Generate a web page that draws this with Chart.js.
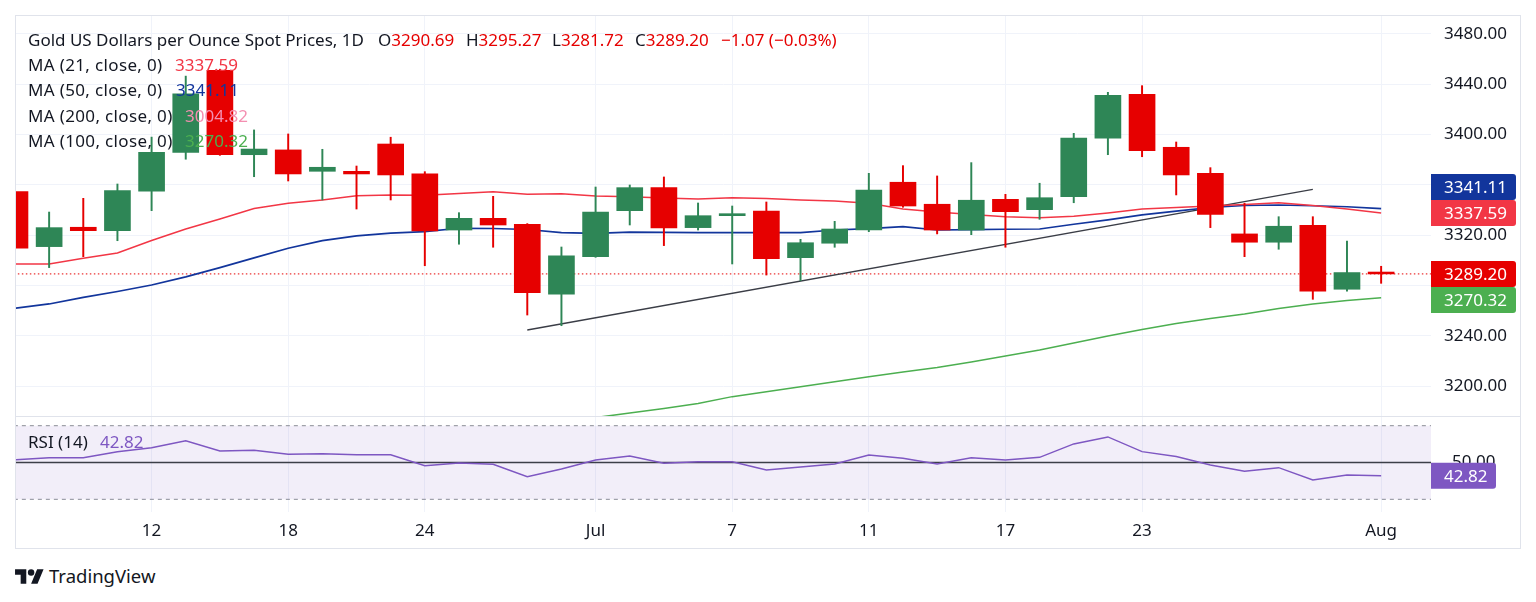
<!DOCTYPE html>
<html>
<head>
<meta charset="utf-8">
<script src="https://cdn.jsdelivr.net/npm/chart.js@4.4.1/dist/chart.umd.min.js"></script>
<style>
  html, body { margin: 0; padding: 0; background: #fff; }
  #wrap { position: relative; width: 1536px; height: 602px; background: #fff; overflow: hidden; }
  canvas { position: absolute; left: 0; }
  .frame { position: absolute; left: 15px; top: 15px; width: 1504px; height: 532px; border: 1px solid #e0e3eb; pointer-events: none; }
  .sep { position: absolute; left: 15px; top: 416px; width: 1505px; height: 1px; background: #e0e3eb; pointer-events: none; }
  .t { position: absolute; font-family: 'Noto Sans', 'Open Sans', sans-serif; font-size: 17px; line-height: 25px; white-space: pre; color: #131722; }
  #logo { position: absolute; left: 15px; top: 566px; }
  #logotext { position: absolute; left: 49px; top: 563px; font-family: 'Noto Sans', 'Open Sans', sans-serif; font-size: 18.5px; line-height: 25px; color: #131722; white-space: pre; }
</style>
</head>
<body>
<div id="wrap">
  <canvas id="main" width="1536" height="416" style="top:0"></canvas>
  <canvas id="rsi" width="1536" height="132" style="top:416px"></canvas>
  <div class="frame"></div>
  <div class="sep"></div>
  <div id="legend"></div>
  <svg id="logo" width="29" height="22.5" viewBox="0 0 36 28"><path d="M14 22H7V11H0V4h14v18zM28 22h-8l7.5-18h8L28 22z" fill="#131722"/><circle cx="20" cy="8" r="4" fill="#131722"/></svg>
  <div id="logotext">TradingView</div>
</div>
<script>
// ---------------- DATA ----------------
const dates = ['Jun 6','Jun 9','Jun 10','Jun 11','Jun 12','Jun 13','Jun 16','Jun 17','Jun 18','Jun 19','Jun 20',
  'Jun 23','Jun 24','Jun 25','Jun 26','Jun 27','Jun 30','Jul 1','Jul 2','Jul 3','Jul 4','Jul 7','Jul 8','Jul 9',
  'Jul 10','Jul 11','Jul 14','Jul 15','Jul 16','Jul 17','Jul 18','Jul 21','Jul 22','Jul 23','Jul 24','Jul 25',
  'Jul 28','Jul 29','Jul 30','Jul 31','Aug 1'];
const open  = [3354.6,3310.9,3326.3,3323.6,3354.9,3385.9,3451.1,3384.0,3387.8,3370.8,3370.8,3392.5,3368.7,3324.1,3333.4,3328.7,3273.0,3302.9,3339.5,3357.8,3326.0,3335.5,3339.2,3302.1,3313.6,3324.1,3362.1,3344.6,3324.1,3348.5,3340.3,3350.6,3397.1,3432.0,3389.9,3369.2,3321.0,3314.4,3327.9,3277.0,3290.69];
const high  = [3356.0,3338.4,3349.3,3360.7,3398.0,3446.5,3452.0,3403.7,3400.5,3388.3,3375.0,3397.9,3370.5,3337.9,3350.9,3329.2,3310.6,3358.3,3359.9,3366.3,3345.6,3343.2,3346.4,3316.7,3331.0,3369.2,3375.3,3367.1,3377.7,3352.5,3361.3,3401.0,3433.6,3438.9,3394.1,3373.7,3345.4,3334.7,3334.7,3315.4,3295.27];
const low   = [3308.5,3294.2,3302.9,3315.6,3339.5,3380.4,3383.5,3366.5,3363.1,3348.0,3340.8,3348.0,3295.7,3312.8,3310.4,3256.5,3248.0,3302.4,3328.1,3311.7,3324.1,3297.1,3288.3,3283.8,3310.4,3322.8,3342.2,3321.0,3320.4,3310.4,3332.6,3345.8,3384.0,3382.4,3352.0,3326.0,3302.9,3308.8,3269.0,3275.4,3281.72];
const close = [3309.6,3326.0,3323.6,3355.4,3385.9,3432.5,3384.0,3388.5,3368.7,3374.0,3368.7,3367.9,3323.3,3333.4,3328.1,3274.3,3303.5,3338.4,3357.8,3325.7,3335.5,3337.1,3301.3,3314.0,3324.9,3355.9,3343.2,3324.1,3347.8,3338.7,3349.8,3397.3,3431.3,3387.2,3367.9,3336.6,3314.4,3327.1,3275.4,3290.27,3289.20];
const ma21  = [3297.1,3297.1,3301.6,3305.8,3315.8,3324.9,3332.9,3341.2,3345.4,3348.0,3351.4,3352.0,3351.7,3353.2,3354.6,3352.5,3353.0,3351.2,3350.6,3349.6,3348.8,3349.8,3349.2,3348.0,3347.2,3345.4,3340.8,3338.4,3336.5,3334.7,3333.9,3335.0,3337.7,3340.8,3342.0,3343.2,3344.4,3345.8,3343.6,3340.8,3337.59];
const ma50  = [3261.9,3265.3,3270.5,3275.2,3280.4,3286.8,3294.2,3301.9,3309.6,3315.6,3319.4,3321.7,3322.9,3325.5,3325.3,3324.5,3322.1,3321.5,3322.5,3322.3,3322.0,3322.0,3322.0,3322.0,3324.1,3325.2,3326.8,3324.1,3324.4,3324.7,3324.9,3328.7,3332.1,3336.1,3339.2,3342.0,3343.6,3344.0,3343.4,3342.6,3341.11];
const ma100 = [null,null,null,null,null,null,null,null,null,null,null,null,null,null,null,null,null,3175.0,3178.5,3182.2,3186.2,3191.6,3195.5,3199.4,3203.5,3207.5,3211.2,3214.8,3219.2,3223.9,3228.7,3234.3,3239.8,3245.0,3249.8,3253.8,3257.4,3261.7,3265.3,3268.1,3270.32];
const ma200Last = 3004.82;
const rsi   = [51.4,52.6,52.6,55.9,58.0,61.8,56.3,56.6,54.5,54.8,54.2,54.2,48.3,49.7,49.0,42.3,46.5,51.4,53.5,49.6,50.4,50.4,45.9,47.6,49.2,54.1,52.3,49.2,52.6,51.4,52.8,60.1,63.9,55.9,53.2,48.6,45.2,47.2,40.5,43.2,42.82];
const rsiLevels = [70, 50, 30];
const trendIdx = [15, 38];
const trendPrice = [3244.6, 3356.5];
const priceTicks = [3200, 3240, 3280, 3320, 3360, 3400, 3440, 3480];
const timeTickIdx = [4, 8, 12, 17, 21, 25, 29, 33, 40];
const timeTickLabels = ['12', '18', '24', 'Jul', '7', '11', '17', '23', 'Aug'];

// ---------------- STYLE ----------------
const FONT = "'Noto Sans', 'Open Sans', sans-serif";
const TEXT = '#131722';
const GRID = '#f0f3fa';
const UP = '#2e8656';
const DOWN = '#e60000';
const C21 = '#f23645';
const C50 = '#12359c';
const C100 = '#4caf50';
const C200 = '#f48fb1';
const CRSI = '#7e57c2';
const X_MIN = 0.03, X_MAX = 41.46;

Chart.defaults.font.family = FONT;
Chart.defaults.font.size = 17;
Chart.defaults.color = TEXT;

const idx = dates.map((_, i) => i);
const last = idx.length - 1;
const candleColors = idx.map(i => close[i] >= open[i] ? UP : DOWN);

function drawTag(ctx, x, cy, w, h, color, text) {
  ctx.save();
  ctx.fillStyle = color;
  ctx.beginPath();
  if (ctx.roundRect) ctx.roundRect(x, cy - h / 2, w, h, [0, 3, 3, 0]);
  else ctx.rect(x, cy - h / 2, w, h);
  ctx.fill();
  ctx.fillStyle = '#ffffff';
  ctx.font = '17px ' + FONT;
  ctx.textAlign = 'left';
  ctx.textBaseline = 'middle';
  ctx.fillText(text, x + 13, cy + 1);
  ctx.restore();
}

const tagPlugin = {
  id: 'tags',
  afterDraw(chart, args, opts) {
    const ys = chart.scales.y;
    const placed = [];
    const H = 26;
    (opts.items || []).forEach(t => {
      let cy = ys.getPixelForValue(t.value);
      placed.forEach(p => {
        if (Math.abs(cy - p) < H) cy = cy < p ? p - H : p + H;
      });
      placed.push(cy);
      drawTag(chart.ctx, ys.left, cy, opts.width, H, t.color, t.value.toFixed(2));
    });
  }
};

function xScale(showTicks) {
  return {
    type: 'linear', min: X_MIN, max: X_MAX, offset: false, bounds: 'data',
    afterBuildTicks: s => { s.ticks = timeTickIdx.map(v => ({ value: v })); },
    afterFit: s => {
      if (!showTicks) s.height = 0; else s.height = 36;
      s.paddingLeft = 0; s.paddingRight = 0;
    },
    ticks: { display: showTicks, autoSkip: false, maxRotation: 0, padding: 9, color: TEXT,
             callback: (v, i) => timeTickLabels[i] },
    grid: { color: GRID, offset: false, drawTicks: false, lineWidth: 1 },
    border: { display: false }
  };
}

function init() {
  // ---------- main price chart ----------
  new Chart(document.getElementById('main'), {
    type: 'bar',
    data: {
      datasets: [
        { type: 'bar', data: idx.map(i => ({ x: i, y: [open[i], close[i]] })), backgroundColor: candleColors,
          barThickness: 26, grouped: false, order: 0, clip: 0, minBarLength: 1, borderWidth: 0 },
        { type: 'bar', data: idx.map(i => ({ x: i, y: [low[i], high[i]] })), backgroundColor: candleColors,
          barThickness: 1.3, grouped: false, order: 1, clip: 0, borderWidth: 0 },
        { type: 'line', data: idx.map(i => ({ x: i, y: ma21[i] })), borderColor: C21, borderWidth: 1.5,
          pointRadius: 0, order: 3, clip: 0, tension: 0 },
        { type: 'line', data: idx.map(i => ({ x: i, y: ma50[i] })), borderColor: C50, borderWidth: 1.7,
          pointRadius: 0, order: 3, clip: 0, tension: 0 },
        { type: 'line', data: idx.map(i => ({ x: i, y: ma100[i] })), borderColor: C100, borderWidth: 1.5,
          pointRadius: 0, order: 3, clip: 0, tension: 0, spanGaps: false },
        { type: 'line', data: trendIdx.map((t, k) => ({ x: t, y: trendPrice[k] })), borderColor: '#3a3d46', borderWidth: 1.3,
          pointRadius: 0, order: 4, clip: 0 },
        { type: 'line', data: [{ x: X_MIN - 1, y: close[last] }, { x: X_MAX + 1, y: close[last] }], borderColor: DOWN,
          borderWidth: 1, borderDash: [1.5, 2.5], pointRadius: 0, order: 5, clip: 0 }
      ]
    },
    options: {
      responsive: false, animation: false,
      layout: { padding: { left: 16, right: 16, top: 15, bottom: 0 } },
      plugins: {
        legend: { display: false }, tooltip: { enabled: false },
        tags: { width: 85, items: [
          { value: close[last], color: DOWN },
          { value: ma21[last], color: C21 },
          { value: ma50[last], color: C50 },
          { value: ma100[last], color: C100 }
        ] }
      },
      scales: {
        x: xScale(false),
        y: {
          type: 'linear', position: 'right', min: 3176.2, max: 3495.1, bounds: 'data',
          afterBuildTicks: s => { s.ticks = priceTicks.map(v => ({ value: v })); },
          afterFit: s => { s.width = 89; s.paddingTop = 0; s.paddingBottom = 0; },
          ticks: { padding: 13, color: TEXT, callback: v => Number(v).toFixed(2) },
          grid: { color: GRID, drawTicks: false },
          border: { display: false }
        }
      }
    },
    plugins: [tagPlugin]
  });

  // ---------- RSI chart ----------
  new Chart(document.getElementById('rsi'), {
    type: 'line',
    data: {
      datasets: [
        { data: [{ x: X_MIN - 1, y: rsiLevels[0] }, { x: X_MAX + 1, y: rsiLevels[0] }], borderColor: '#8a8d96',
          borderDash: [4, 4], borderWidth: 1, pointRadius: 0, clip: 0, fill: '+1',
          backgroundColor: 'rgba(126,87,194,0.1)', order: 4 },
        { data: [{ x: X_MIN - 1, y: rsiLevels[2] }, { x: X_MAX + 1, y: rsiLevels[2] }], borderColor: '#8a8d96',
          borderDash: [4, 4], borderWidth: 1, pointRadius: 0, clip: 0, fill: false, order: 4 },
        { data: [{ x: X_MIN - 1, y: rsiLevels[1] }, { x: X_MAX + 1, y: rsiLevels[1] }], borderColor: '#3c3f48',
          borderWidth: 1.6, pointRadius: 0, clip: 0, fill: false, order: 3 },
        { data: idx.map(i => ({ x: i, y: rsi[i] })), borderColor: CRSI, borderWidth: 1.5, pointRadius: 0,
          clip: 0, fill: false, order: 1, tension: 0 }
      ]
    },
    options: {
      responsive: false, animation: false,
      layout: { padding: { left: 16, right: 16, top: 0, bottom: 0 } },
      plugins: {
        legend: { display: false }, tooltip: { enabled: false },
        tags: { width: 65, items: [{ value: rsi[last], color: CRSI }] }
      },
      scales: {
        x: xScale(true),
        y: {
          type: 'linear', position: 'right', min: 23.1, max: 75.27, bounds: 'data',
          afterBuildTicks: s => { s.ticks = [{ value: rsiLevels[1] }]; },
          afterFit: s => { s.width = 89; s.paddingTop = 0; s.paddingBottom = 0; },
          ticks: { padding: 13, color: TEXT, callback: v => Number(v).toFixed(2) },
          grid: { display: false },
          border: { display: false }
        }
      }
    },
    plugins: [tagPlugin]
  });

  // ---------- legend texts ----------
  const lg = document.getElementById('legend');
  function put(x, y, text, color) {
    const d = document.createElement('div');
    d.className = 't';
    d.style.left = x + 'px';
    d.style.top = y + 'px';
    if (color) d.style.color = color;
    d.textContent = text;
    lg.appendChild(d);
    return d;
  }
  const chg = close[last] - close[last - 1];
  const pct = chg / close[last - 1] * 100;
  const sgn = v => (v < 0 ? '\u2212' : '+') + Math.abs(v).toFixed(2);
  const rowTop = [26.6, 52, 77.3, 102.7, 128.1];
  put(28, rowTop[0], 'Gold US Dollars per Ounce Spot Prices, 1D');
  const ohlc = [['O', open[last], 378], ['H', high[last], 466], ['L', low[last], 552], ['C', close[last], 635]];
  ohlc.forEach(([k, v, x]) => {
    const d = put(x, rowTop[0], k);
    const s = document.createElement('span');
    s.style.color = DOWN;
    s.textContent = v.toFixed(2);
    d.appendChild(s);
  });
  put(721, rowTop[0], sgn(chg) + ' (' + sgn(pct) + '%)', DOWN);
  const maRows = [
    ['MA (21, close, 0)', ma21[last], C21, 175],
    ['MA (50, close, 0)', ma50[last], C50, 176],
    ['MA (200, close, 0)', ma200Last, C200, 185],
    ['MA (100, close, 0)', ma100[last], C100, 185]
  ];
  maRows.forEach(([lab, v, c, vx], k) => {
    const d = put(28, rowTop[k + 1], lab);
    d.style.letterSpacing = '0.35px';
    put(vx, rowTop[k + 1], v.toFixed(2), c);
  });
  put(28, 429, 'RSI (14)');
  put(100, 429, rsi[last].toFixed(2), CRSI);
}

if (document.fonts && document.fonts.load) {
  document.fonts.load('17px "Noto Sans"').then(init, init);
} else {
  init();
}
</script>
</body>
</html>
